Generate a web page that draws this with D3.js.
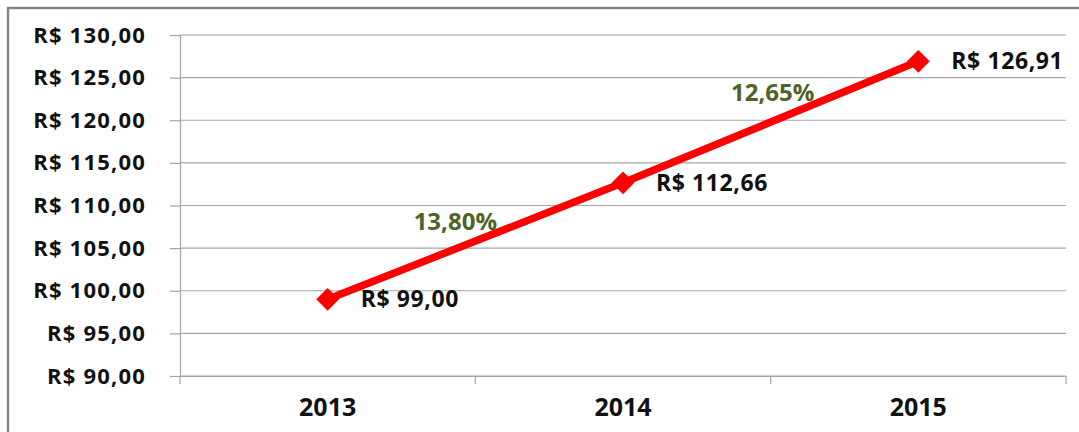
<!DOCTYPE html>
<html lang="pt-BR">
<head>
    <meta charset="UTF-8">
    <title>Preço 2013-2015</title>
    <script src="https://d3js.org/d3.v7.min.js"></script>
    <style>
        body { margin: 0; background: #fff; }
        svg text { font-family: "Open Sans", "Noto Sans", sans-serif; }
    </style>
</head>
<body>
    <div id="chart"></div>

    <script>
        // Data
        const years = ["2013", "2014", "2015"];
        const prices = [99.00, 112.66, 126.91];
        const growthLabels = ["13,80%", "12,65%"];
        const yTicks = [90, 95, 100, 105, 110, 115, 120, 125, 130];

        // label nudges for the growth annotations (layout only)
        const growthOffsets = [[-20, -19], [2, -29]];

        const W = 1079, H = 432;
        const margin = {top: 35, right: 13, bottom: 56, left: 180};
        const width = W - margin.left - margin.right,
              height = H - margin.top - margin.bottom;

        const brl = v => "R$ " + v.toFixed(2).replace(".", ",");

        const svg = d3.select("#chart")
            .append("svg")
            .attr("width", W)
            .attr("height", H);

        // outer chart frame (only top and left show in the crop)
        svg.append("rect")
            .attr("x", 8)
            .attr("y", 8)
            .attr("width", W + 20)
            .attr("height", H + 20)
            .attr("fill", "none")
            .attr("stroke", "#868686")
            .attr("stroke-width", 2.5);

        const g = svg.append("g")
            .attr("transform", `translate(${margin.left}, ${margin.top})`);

        const x = d3.scaleBand()
            .domain(years)
            .range([0, width]);

        const y = d3.scaleLinear()
            .domain([90, 130])
            .range([height, 0]);

        // horizontal gridlines
        g.append("g")
            .selectAll("line")
            .data(yTicks)
            .join("line")
            .attr("x1", 0)
            .attr("x2", width)
            .attr("y1", d => y(d))
            .attr("y2", d => y(d))
            .attr("stroke", "#a6a6a6")
            .attr("stroke-width", 1.2);

        // y axis
        const yAxis = g.append("g")
            .call(d3.axisLeft(y).tickValues(yTicks).tickSize(10).tickPadding(24).tickFormat(brl));
        yAxis.select(".domain").attr("stroke", "#a6a6a6").attr("stroke-width", 1.2);
        yAxis.selectAll(".tick line").attr("stroke", "#a6a6a6").attr("stroke-width", 1.2);
        yAxis.selectAll(".tick text")
            .attr("font-size", 22)
            .attr("font-weight", 700)
            .attr("letter-spacing", 1.2)
            .attr("fill", "#111");

        // x axis: ticks sit between categories
        const xAxis = g.append("g")
            .attr("transform", `translate(0, ${height})`)
            .call(d3.axisBottom(x).tickSize(0).tickPadding(22));
        xAxis.select(".domain").attr("stroke", "#a6a6a6").attr("stroke-width", 1.2);
        xAxis.selectAll(".tick text")
            .attr("font-size", 25)
            .attr("font-weight", 700)
            .attr("fill", "#111");

        const bounds = years.map(d => x(d)).concat([width]);
        xAxis.selectAll(".sep")
            .data(bounds)
            .join("line")
            .attr("class", "sep")
            .attr("x1", d => d)
            .attr("x2", d => d)
            .attr("y1", 0)
            .attr("y2", 8)
            .attr("stroke", "#a6a6a6")
            .attr("stroke-width", 1.2);

        const pts = years.map((yr, i) => [x(yr) + x.bandwidth() / 2, y(prices[i])]);

        // price line
        g.append("path")
            .datum(pts)
            .attr("d", d3.line())
            .attr("fill", "none")
            .attr("stroke", "#ff0000")
            .attr("stroke-width", 7.5);

        // diamond markers
        g.selectAll(".marker")
            .data(pts)
            .join("path")
            .attr("class", "marker")
            .attr("transform", d => `translate(${d[0]}, ${d[1]})`)
            .attr("d", d3.symbol().type(d3.symbolDiamond2).size(330))
            .attr("fill", "#ff0000");

        // value labels
        g.selectAll(".val")
            .data(pts)
            .join("text")
            .attr("class", "val")
            .attr("x", d => d[0] + 33)
            .attr("y", d => d[1])
            .attr("dy", "0.35em")
            .attr("font-size", 23)
            .attr("font-weight", 700)
            .attr("letter-spacing", 0.6)
            .attr("fill", "#111")
            .text((d, i) => brl(prices[i]));

        // growth annotations on each segment
        g.selectAll(".growth")
            .data(growthLabels)
            .join("text")
            .attr("class", "growth")
            .attr("x", (d, i) => (pts[i][0] + pts[i + 1][0]) / 2 + growthOffsets[i][0])
            .attr("y", (d, i) => (pts[i][1] + pts[i + 1][1]) / 2 + growthOffsets[i][1])
            .attr("dy", "0.35em")
            .attr("text-anchor", "middle")
            .attr("font-size", 24)
            .attr("font-weight", 700)
            .attr("fill", "#4f6228")
            .text(d => d);
    </script>
</body>
</html>
